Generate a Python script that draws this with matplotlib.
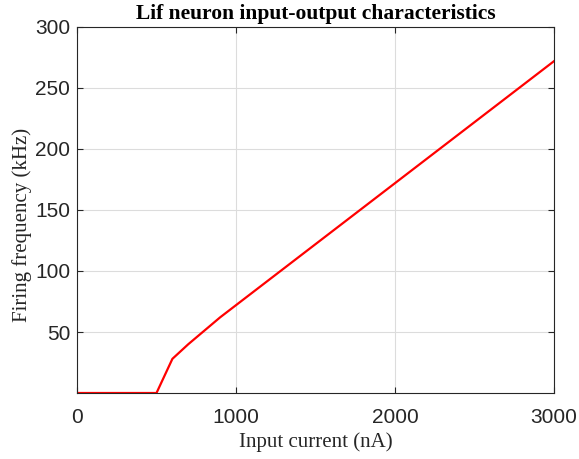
import matplotlib
matplotlib.use("Agg")
import matplotlib.pyplot as plt

current_nA = [0, 100, 200, 300, 400, 500, 600, 700, 800, 900, 1000,
              1100, 1200, 1300, 1400, 1500, 1600, 1700, 1800, 1900, 2000,
              2100, 2200, 2300, 2400, 2500, 2600, 2700, 2800, 2900, 3000]
rate_kHz = [0, 0, 0, 0, 0, 0, 28, 40, 51, 62, 72,
            82, 92, 102, 112, 122, 132, 142, 152, 162, 172,
            182, 192, 202, 212, 222, 232, 242, 252, 262, 272]
x_ticks = [0, 1000, 2000, 3000]
y_ticks = [50, 100, 150, 200, 250, 300]

fig = plt.figure(figsize=(5.79, 4.59), dpi=100)
ax = fig.add_axes([77/579, 1 - 393/459, (554 - 77)/579, (393 - 27)/459])

ax.plot(current_nA, rate_kHz, color="#ff0000", linewidth=1.6)
ax.set_xlim(0, 3000)
ax.set_ylim(0, 300)
ax.set_xticks(x_ticks)
ax.set_yticks(y_ticks)
ax.grid(True, color="#dcdcdc", linewidth=0.8)
ax.set_axisbelow(True)

edge = "#262626"
for s in ax.spines.values():
    s.set_color(edge)
    s.set_linewidth(0.8)
ax.tick_params(direction="in", top=True, right=True, length=4, width=0.8,
               colors=edge, labelsize=15)
ax.tick_params(axis="x", pad=11)
ax.tick_params(axis="y", pad=5)
for lab in ax.get_xticklabels() + ax.get_yticklabels():
    lab.set_fontfamily("Liberation Sans")

ax.set_xlabel("Input current (nA)", fontfamily="Liberation Serif", fontsize=15,
              color=edge, labelpad=3.5)
ax.set_ylabel("Firing frequency (kHz)", fontfamily="Liberation Serif", fontsize=15,
              color=edge)
ax.yaxis.set_label_coords(-0.094, 0.459)
ax.set_title("Lif neuron input-output characteristics", fontfamily="Liberation Serif",
             fontsize=15.5, fontweight="bold", pad=6)

fig.savefig("out.png", dpi=100)
